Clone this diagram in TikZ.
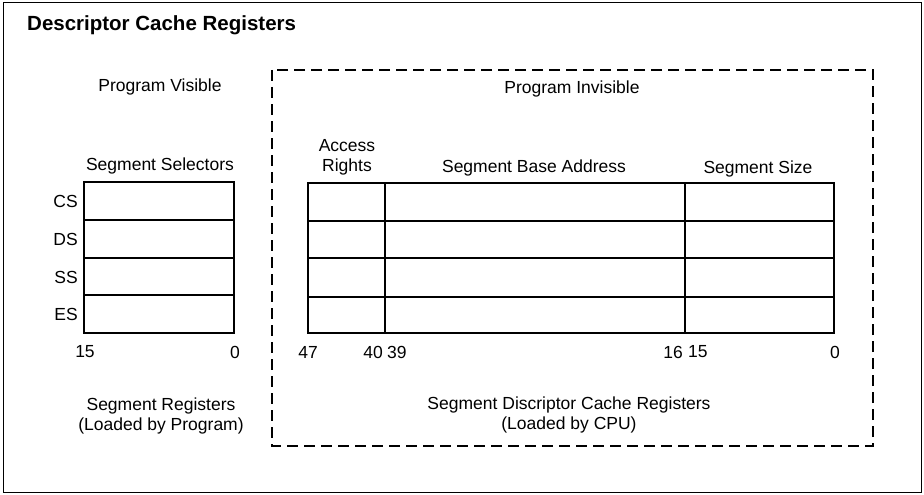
\documentclass[tikz,border=0pt]{standalone}
\usepackage{fontspec}
\setmainfont{Liberation Sans}
\begin{document}
\begin{tikzpicture}[x=1pt,y=-1pt,
  lbl/.style={font=\fontsize{17.5}{19}\selectfont, inner sep=0pt, align=center},
  title/.style={font=\fontsize{20.5}{24}\selectfont\bfseries, inner sep=0pt, anchor=west},
  tbl/.style={line width=1.8pt},
  rowline/.style={line width=1.3pt},
  dashbox/.style={line width=1.4pt, dash pattern=on 11pt off 6pt},
  frame/.style={line width=1pt}]
\useasboundingbox (0,0) rectangle (924,495);
\draw[frame] (3,3) rectangle (921,492);
\node[title] (t) at (27,25) {Descriptor Cache Registers};
% dashed box
\draw[dashbox] (272,70) rectangle (873,446);
% Left table
\draw[rowline] (84,220) -- (234,220) (84,258) -- (234,258) (84,295) -- (234,295);
\draw[tbl] (84,182) rectangle (234,333);
% Right table
\draw[rowline] (308,221) -- (834,221) (308,258) -- (834,258) (308,297) -- (834,297);
\draw[rowline] (385,183) -- (385,333) (685,183) -- (685,333);
\draw[tbl] (308,183) rectangle (834,333);
% labels
\node[lbl] (pv) at (160,87) {Program Visible};
\node[lbl] (pi) at (572,89) {Program Invisible};
\node[lbl] (ss) at (160,166) {Segment Selectors};
\node[lbl] (ar) at (347,157) {Access\\[1pt]Rights};
\node[lbl] (sba) at (534,168) {Segment Base Address};
\node[lbl] (ssz) at (758,169) {Segment Size};
\node[lbl,anchor=east] (cs) at (78,201) {CS};
\node[lbl,anchor=east] (ds) at (78,239) {DS};
\node[lbl,anchor=east] (sss) at (78,277) {SS};
\node[lbl,anchor=east] (es) at (78,314) {ES};
\node[lbl] (b15a) at (85,352) {15};
\node[lbl] (b0a) at (235,352) {0};
\node[lbl] (b47) at (308,352) {47};
\node[lbl,anchor=east] (b40) at (383,352) {40};
\node[lbl,anchor=west] (b39) at (387,352) {39};
\node[lbl,anchor=east] (b16) at (683,352) {16};
\node[lbl,anchor=west] (b15b) at (688,352) {15};
\node[lbl] (b0b) at (835,352) {0};
\node[lbl] (sr) at (161,416) {Segment Registers\\[1pt](Loaded by Program)};
\node[lbl] (sdc) at (569,415) {Segment Discriptor Cache Registers\\[1pt](Loaded by CPU)};
\end{tikzpicture}
\end{document}
